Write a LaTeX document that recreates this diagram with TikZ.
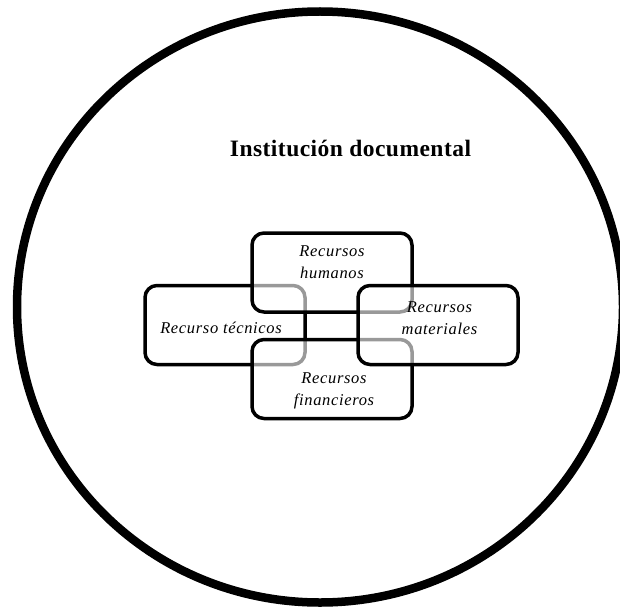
\documentclass[tikz,border=0pt]{standalone}
\usepackage{fontspec}
\setmainfont{Liberation Serif}
\begin{document}
\begin{tikzpicture}[x=1pt,y=-1pt,
  resbox/.style={draw=black, line width=3.5pt, rounded corners=12pt, fill=white, fill opacity=0.6, inner sep=0pt, outer sep=0pt, minimum width=160pt, minimum height=79pt},
  restxt/.style={align=center, inner sep=0pt, font=\fontsize{16.5}{22}\selectfont\itshape\addfontfeature{LetterSpace=4}},
  titletxt/.style={inner sep=0pt, font=\fontsize{23.5}{28}\selectfont\bfseries\addfontfeature{LetterSpace=2}}]
\clip (0,0) rectangle (620,607);
\fill[white] (0,0) rectangle (620,607);
\draw[line width=8.5pt] (320,307) ellipse [x radius=303pt, y radius=295.5pt];
\node[titletxt] (title) at (350.5,148) {Institución documental};
\node[resbox] (bTec) at (225,325) {};
\node[resbox] (bHum) at (332,272.5) {};
\node[resbox] (bFin) at (332,379) {};
\node[resbox] (bMat) at (438,325) {};
\node[restxt] (tHum) at (332,262.5) {Recursos\\humanos};
\node[restxt] (tTec) at (221,328) {Recurso técnicos};
\node[restxt] (tMat) at (439.5,318.5) {Recursos\\materiales};
\node[restxt] (tFin) at (334,391) {Recursos\\financieros};
\end{tikzpicture}
\end{document}
